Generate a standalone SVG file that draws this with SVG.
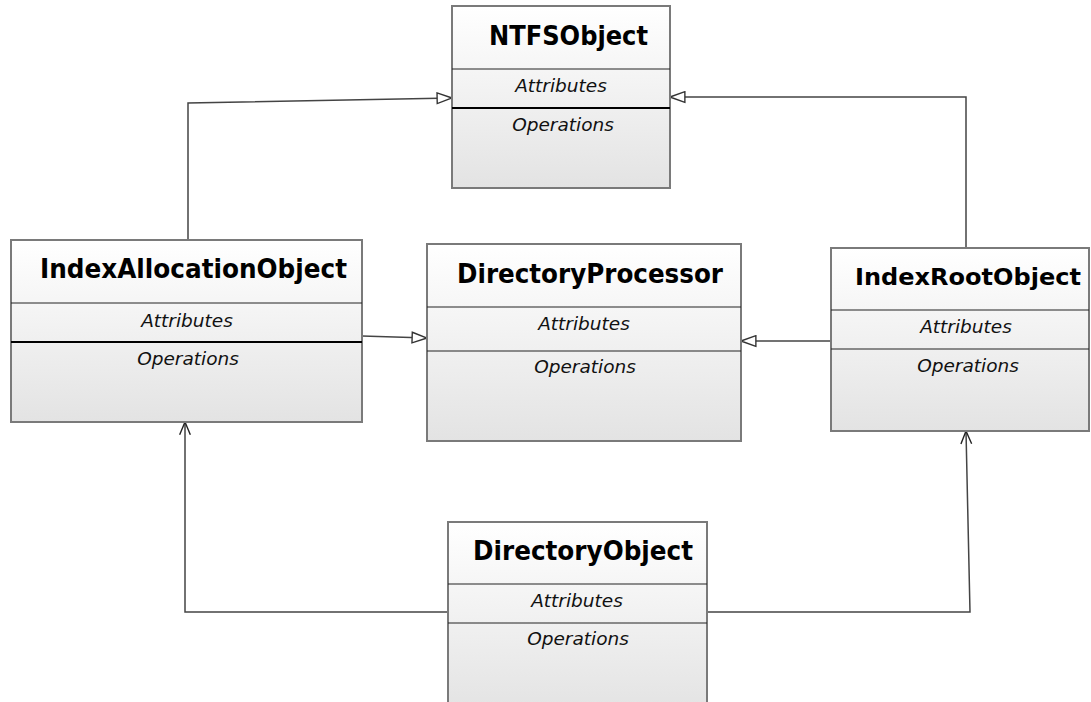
<svg xmlns="http://www.w3.org/2000/svg" width="1091" height="702" viewBox="0 0 1091 702">
<style>
.box{fill:url(#g);stroke:#7a7a7a;stroke-width:2}
.div{stroke:#222;stroke-width:1}
.divb{stroke:#000;stroke-width:2}
.title{font-family:"DejaVu Sans",sans-serif;font-weight:bold;font-size:26px;fill:#000}
.title.sm{font-size:23.5px}
.sec{font-family:"DejaVu Sans",sans-serif;font-style:italic;font-size:18.5px;fill:#111;text-anchor:middle}
.conn{fill:none;stroke:#444;stroke-width:1.5}
</style>
<defs>
<linearGradient id="g" x1="0" y1="0" x2="0" y2="1">
<stop offset="0" stop-color="#ffffff"/>
<stop offset="1" stop-color="#e3e3e3"/>
</linearGradient>
<marker id="tri" viewBox="0 0 16 12" refX="15" refY="6" markerWidth="17" markerHeight="13" markerUnits="userSpaceOnUse" orient="auto">
<path d="M1,1 L15,6 L1,11 Z" fill="#fff" stroke="#333" stroke-width="1.3"/>
</marker>
<marker id="open" viewBox="0 0 14 12" refX="13" refY="6" markerWidth="15" markerHeight="13" markerUnits="userSpaceOnUse" orient="auto">
<path d="M1,1 L13,6 L1,11" fill="none" stroke="#222" stroke-width="1.3"/>
</marker>
</defs>

<g id="connectors">
<polyline class="conn" points="188,240 188,103 452,98" marker-end="url(#tri)"/>
<polyline class="conn" points="966,248 966,97 670,97" marker-end="url(#tri)"/>
<line class="conn" x1="362" y1="336" x2="427" y2="338" marker-end="url(#tri)"/>
<line class="conn" x1="831" y1="341" x2="741" y2="341" marker-end="url(#tri)"/>
<polyline class="conn" points="448,612 185,612 185,422" marker-end="url(#open)"/>
<polyline class="conn" points="707,612 970,612 966,431" marker-end="url(#open)"/>
</g>

<g id="NTFSObject">
<rect class="box" x="452" y="6" width="218" height="182"/>
<line class="div" x1="452" y1="69" x2="670" y2="69"/>
<line class="divb" x1="452" y1="108" x2="670" y2="108"/>
<text class="title" x="489" y="45" textLength="159" lengthAdjust="spacingAndGlyphs">NTFSObject</text>
<text class="sec" x="561" y="92">Attributes</text>
<text class="sec" x="563" y="131">Operations</text>
</g>

<g id="IndexAllocationObject">
<rect class="box" x="11" y="240" width="351" height="182"/>
<line class="div" x1="11" y1="303" x2="362" y2="303"/>
<line class="divb" x1="11" y1="342" x2="362" y2="342"/>
<text class="title" x="40" y="278" textLength="307" lengthAdjust="spacingAndGlyphs">IndexAllocationObject</text>
<text class="sec" x="187" y="327">Attributes</text>
<text class="sec" x="188" y="365">Operations</text>
</g>

<g id="DirectoryProcessor">
<rect class="box" x="427" y="244" width="314" height="197"/>
<line class="div" x1="427" y1="307" x2="741" y2="307"/>
<line class="div" x1="427" y1="351" x2="741" y2="351"/>
<text class="title" x="457" y="283" textLength="266" lengthAdjust="spacingAndGlyphs">DirectoryProcessor</text>
<text class="sec" x="584" y="330">Attributes</text>
<text class="sec" x="585" y="373">Operations</text>
</g>

<g id="IndexRootObject">
<rect class="box" x="831" y="248" width="258" height="183"/>
<line class="div" x1="831" y1="310" x2="1089" y2="310"/>
<line class="div" x1="831" y1="349" x2="1089" y2="349"/>
<text class="title sm" x="855" y="285" textLength="226" lengthAdjust="spacingAndGlyphs">IndexRootObject</text>
<text class="sec" x="966" y="333">Attributes</text>
<text class="sec" x="968" y="372">Operations</text>
</g>

<g id="DirectoryObject">
<rect class="box" x="448" y="522" width="259" height="190"/>
<line class="div" x1="448" y1="584" x2="707" y2="584"/>
<line class="div" x1="448" y1="623" x2="707" y2="623"/>
<text class="title" x="473" y="560" textLength="220" lengthAdjust="spacingAndGlyphs">DirectoryObject</text>
<text class="sec" x="577" y="607">Attributes</text>
<text class="sec" x="578" y="645">Operations</text>
</g>
</svg>
